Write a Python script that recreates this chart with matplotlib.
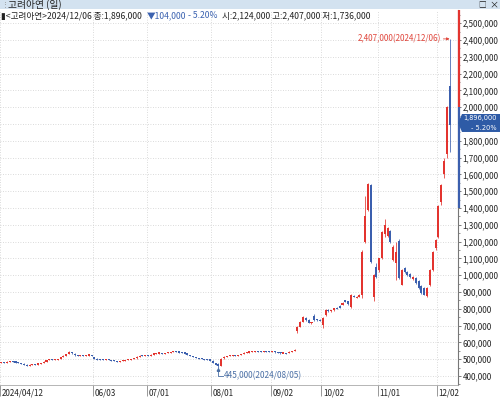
import matplotlib
matplotlib.use('Agg')
import matplotlib.pyplot as plt
import numpy as np
import pandas as pd
from matplotlib.patches import Rectangle, Polygon
from matplotlib.transforms import blended_transform_factory

plt.rcParams['font.family'] = ['Noto Sans CJK KR', 'DejaVu Sans']

# ---------------- data ----------------
stock_name = '고려아연'
start_date = '2024-04-12'
end_date = '2024-12-06'
krx_holidays = ['2024-05-01', '2024-05-06', '2024-05-15', '2024-06-06', '2024-08-15',
                '2024-09-16', '2024-09-17', '2024-09-18', '2024-10-01', '2024-10-03',
                '2024-10-09']

# prices in thousand KRW
opens = [478, 482, 480, 486, 488, 485, 481, 478, 473, 468, 463, 469, 471, 470, 473, 477, 486, 495, 501, 498,
         500, 503, 515, 522, 532, 543, 534, 525, 521, 524, 522, 525, 527, 515, 503, 499, 498, 496, 498, 495,
         493, 489, 484, 489, 493, 495, 499, 502, 505, 515, 522, 519, 524, 522, 528, 534, 536, 538, 535, 537,
         540, 543, 548, 545, 541, 539, 535, 526, 519, 513, 509, 505, 501, 499, 497, 492, 478, 470, 460, 505,
         515, 520, 522, 525, 521, 526, 532, 540, 542, 544, 546, 548, 545, 543, 547, 546, 544, 548, 542, 540,
         536, 538, 536, 546, 550, 668, 692, 724, 748, 734, 716, 760, 738, 735, 705, 765, 792, 786, 792, 806,
         818, 825, 850, 845, 812, 878, 868, 872, 880, 1200, 1390, 1540, 868, 1050, 1030, 1100, 1245, 1232, 1262, 1090,
         1075, 1205, 945, 1045, 1020, 1010, 975, 985, 965, 935, 925, 875, 940, 1030, 1160, 1230, 1435, 1600, 1720, 2124]
highs = [486, 485, 487, 490, 489, 487, 483, 479, 475, 470, 470, 473, 474, 475, 477, 488, 496, 503, 502, 502,
         504, 516, 523, 533, 548, 545, 536, 528, 526, 526, 527, 529, 528, 516, 505, 502, 500, 500, 499, 497,
         494, 490, 491, 495, 497, 501, 504, 506, 517, 524, 524, 526, 526, 530, 536, 538, 540, 539, 539, 542,
         545, 550, 549, 546, 543, 540, 536, 528, 520, 515, 510, 507, 503, 502, 499, 494, 480, 476, 505, 518,
         522, 525, 527, 526, 528, 533, 542, 544, 546, 548, 550, 549, 547, 549, 549, 547, 550, 549, 544, 542,
         540, 540, 548, 552, 560, 700, 728, 758, 752, 738, 724, 770, 742, 738, 750, 800, 798, 794, 806, 810,
         822, 840, 855, 848, 890, 884, 876, 888, 1150, 1470, 1550, 1545, 1005, 1075, 1105, 1265, 1335, 1290, 1270, 1180,
         1200, 1215, 1040, 1050, 1025, 1015, 995, 990, 970, 940, 930, 930, 1035, 1145, 1215, 1420, 1545, 1700, 2010, 2407]
lows = [476, 477, 479, 484, 483, 480, 476, 472, 466, 461, 462, 467, 468, 469, 471, 476, 485, 494, 496, 496,
        498, 502, 513, 520, 530, 533, 522, 519, 519, 519, 520, 522, 520, 501, 497, 496, 494, 494, 493, 491,
        488, 481, 483, 488, 491, 494, 497, 500, 504, 514, 517, 518, 520, 521, 527, 532, 534, 533, 534, 536,
        539, 542, 543, 539, 537, 534, 524, 517, 511, 507, 503, 499, 496, 495, 492, 476, 466, 445, 458, 503,
        513, 518, 520, 519, 520, 525, 531, 538, 540, 542, 544, 543, 541, 542, 544, 542, 543, 540, 538, 534,
        535, 532, 535, 544, 549, 655, 690, 722, 728, 714, 712, 730, 730, 725, 685, 760, 782, 783, 790, 797,
        805, 822, 840, 824, 805, 868, 862, 868, 865, 1190, 1380, 1075, 845, 985, 1020, 1095, 1230, 1225, 1195, 1085,
        970, 975, 940, 1015, 995, 985, 970, 950, 920, 890, 880, 870, 935, 1025, 1150, 1220, 1420, 1580, 1700, 1736]
closes = [482, 480, 485, 488, 485, 482, 478, 474, 468, 463, 468, 471, 470, 473, 476, 486, 494, 501, 498, 500,
          502, 514, 521, 531, 544, 535, 525, 521, 524, 521, 525, 527, 522, 503, 499, 498, 496, 498, 495, 493,
          490, 484, 489, 493, 495, 499, 502, 504, 515, 522, 519, 524, 522, 528, 534, 536, 538, 535, 537, 540,
          543, 548, 545, 541, 539, 536, 526, 519, 513, 509, 505, 501, 499, 497, 494, 478, 468, 458, 502, 515,
          520, 522, 525, 521, 526, 531, 540, 542, 544, 546, 548, 545, 543, 547, 546, 544, 548, 542, 540, 536,
          538, 534, 546, 550, 556, 694, 724, 752, 732, 716, 720, 736, 733, 728, 745, 796, 786, 790, 803, 800,
          808, 836, 843, 828, 882, 874, 870, 884, 1140, 1350, 1543, 1080, 1000, 992, 1100, 1260, 1300, 1280, 1200, 1170,
          1140, 985, 1030, 1020, 1000, 990, 990, 955, 925, 895, 885, 925, 1030, 1140, 1210, 1410, 1540, 1680, 2000, 1896]

tick_dates = ['2024-04-12', '2024-06-03', '2024-07-01', '2024-08-01', '2024-09-02',
              '2024-10-02', '2024-11-01', '2024-12-02']
tick_labels = ['2024/04/12', '06/03', '07/01', '08/01', '09/02', '10/02', '11/01', '12/02']
y_ticks = list(range(400000, 2500001, 100000))

last_date = '2024/12/06'
last_close = 1896000
last_change = 104000
last_change_pct = '- 5.20%'
last_open = 2124000
last_high = 2407000
last_low = 1736000
upper_limit = 2600000
lower_limit = 1400000
prev_close = 2000000
max_price, max_date = 2407000, '2024/12/06'
min_price, min_date = 445000, '2024/08/05'

# ---------------- figure ----------------
RED = '#E3342F'
BLUE = '#3B5FAE'
W, H = 500, 398
fig = plt.figure(figsize=(5, 3.98), dpi=100)
fig.patch.set_facecolor('white')

ax = fig.add_axes([0, 13 / H, 458 / W, 375 / H])
ax.set_facecolor('white')

dates = pd.bdate_range(start_date, end_date)
dates = dates[~dates.isin(pd.to_datetime(krx_holidays))]
n = len(closes)
x = np.arange(n)
O = np.array(opens) * 1000.0
Hh = np.array(highs) * 1000.0
L = np.array(lows) * 1000.0
C = np.array(closes) * 1000.0

up = C >= O
cols = np.where(up, RED, BLUE)
ax.vlines(x, L, Hh, colors=cols, linewidth=0.55, zorder=3)
bottom = np.minimum(O, C)
height = np.abs(C - O)
min_h = 7000
adj = height < min_h
bottom = np.where(adj, (O + C) / 2 - min_h / 2, bottom)
height = np.where(adj, min_h, height)
ax.bar(x, height, bottom=bottom, width=0.72, color=cols, linewidth=0, zorder=4)

ax.set_xlim(0.14, 161.97)
ax.set_ylim(347000, 2579000)

# grid
for v in y_ticks:
    ax.axhline(v, color='#cfcfcf', lw=0.6, ls=(0, (1, 2)), zorder=0)
date_index = {d.strftime('%Y-%m-%d'): i for i, d in enumerate(dates)}
tick_pos = [date_index[d] - 0.5 for d in tick_dates]
for p in tick_pos:
    ax.axvline(p, color='#cfcfcf', lw=0.6, ls=(0, (1, 2)), zorder=0)

# current price box extent (price units)
top_p, bot_p = 1960000, 1853000

# y axis on the right (label hidden under the current-price box is left blank)
ax.yaxis.tick_right()
ax.set_yticks(y_ticks)
ax.set_yticklabels(['' if bot_p <= v <= top_p else f'{v:,}' for v in y_ticks])
ax.set_yticks(list(range(350000, 2550001, 100000)), minor=True)
ax.tick_params(axis='y', which='major', direction='out', length=2.5, width=0.6, pad=0.8,
               labelsize=5.8, color='#666666', labelcolor='#222222')
ax.tick_params(axis='y', which='minor', direction='out', length=1.5, width=0.5, color='#666666')

# x axis
ax.set_xticks(tick_pos)
ax.set_xticklabels([])
ax.tick_params(axis='x', direction='out', length=8, width=0.6, color='#888888')
for p, lab in zip(tick_pos, tick_labels):
    ax.annotate(lab, xy=(p, 0), xycoords=('data', 'axes fraction'), xytext=(1.2, -2.2),
                textcoords='offset points', ha='left', va='top', fontsize=5.8, color='#222222',
                annotation_clip=False)

for s in ['top', 'left']:
    ax.spines[s].set_visible(False)
ax.spines['right'].set_color('#777777')
ax.spines['right'].set_linewidth(0.8)
ax.spines['bottom'].set_color('#aaaaaa')
ax.spines['bottom'].set_linewidth(0.6)

# price-limit bar on axis
tb = blended_transform_factory(ax.transAxes, ax.transData)
ax.plot([1.0 + 1.2 / 458, 1.0 + 1.2 / 458], [prev_close, 2579000], color=RED, lw=1.6,
        transform=tb, clip_on=False, zorder=5, solid_capstyle='butt')
ax.plot([1.0 + 1.2 / 458, 1.0 + 1.2 / 458], [lower_limit, prev_close], color=BLUE, lw=1.6,
        transform=tb, clip_on=False, zorder=5, solid_capstyle='butt')

# current price box
poly = Polygon([(1.0, (top_p + bot_p) / 2), (1.0 + 4 / 458, top_p), (500 / 458, top_p),
                (500 / 458, bot_p), (1.0 + 4 / 458, bot_p)], closed=True,
               transform=tb, clip_on=False, facecolor='#2E5BA6', edgecolor='none', zorder=6)
ax.add_patch(poly)
ax.text(1.0 + 22.5 / 458, 1934000, f'{last_close:,}', transform=tb, ha='center', va='center',
        fontsize=4.8, color='white', zorder=7, clip_on=False, family='DejaVu Sans')
ax.text(1.0 + 38.5 / 458, 1878000, last_change_pct, transform=tb, ha='right', va='center',
        fontsize=4.8, color='white', zorder=7, clip_on=False, family='DejaVu Sans')

# max annotation
imax = int(np.argmax(Hh))
ax.annotate(f'{max_price:,}({max_date})', xy=(imax, max_price), xytext=(imax - 3.2, max_price),
            ha='right', va='center', fontsize=5.8, color='#E0463C', zorder=7,
            arrowprops=dict(arrowstyle='-|>', color='#E0463C', lw=0.6, mutation_scale=4,
                            shrinkA=0, shrinkB=0))

# min annotation
imin = int(np.argmin(L))
ax.plot([imin, imin, imin + 1.6], [min_price - 4000, min_price - 45000, min_price - 45000],
        color='#4A6FA5', lw=0.6, zorder=7)
ax.plot([imin], [min_price - 9000], marker=(3, 0, 0), color='#4A6FA5', ms=2.2, zorder=7)
ax.text(imin + 1.8, min_price - 45000, f'{min_price:,}({min_date})', ha='left', va='center',
        fontsize=5.9, color='#4A6FA5', zorder=7)

# info line (inside chart, top-left)
yinfo = 1 - 5.8 / 375
fs_info = 6.2
ax.text(1 / 458, yinfo, f'▮<{stock_name}>{last_date} 종:{last_close:,}', transform=ax.transAxes,
        ha='left', va='center', fontsize=fs_info, color='#222222', zorder=8)
ax.text(147 / 458, yinfo, f'▼{last_change:,}', transform=ax.transAxes,
        ha='left', va='center', fontsize=fs_info, color='#3B62B0', zorder=8)
ax.text(188 / 458, yinfo, last_change_pct, transform=ax.transAxes,
        ha='left', va='center', fontsize=fs_info, color='#3B62B0', zorder=8)
ax.text(222 / 458, yinfo, f'시:{last_open:,} 고:{last_high:,} 저:{last_low:,}',
        transform=ax.transAxes, ha='left', va='center', fontsize=fs_info, color='#222222', zorder=8)

# title bar
fig.patches.append(Rectangle((0, (H - 9) / H), 1, 9 / H, transform=fig.transFigure,
                             facecolor='#D3E2F0', edgecolor='none', zorder=0))
fig.text(8 / W, (H - 4.5) / H, f'{stock_name} (일)', ha='left', va='center', fontsize=7,
         color='#222222')
fig.text(2 / W, (H - 4.5) / H, '⋮', ha='left', va='center', fontsize=5, color='#888888')
fig.text(482 / W, (H - 4.5) / H, '□', ha='center', va='center', fontsize=5.5, color='#222222')
fig.text(494 / W, (H - 4.5) / H, '×', ha='center', va='center', fontsize=6.5, color='#222222')

fig.savefig('out.png', dpi=100)
